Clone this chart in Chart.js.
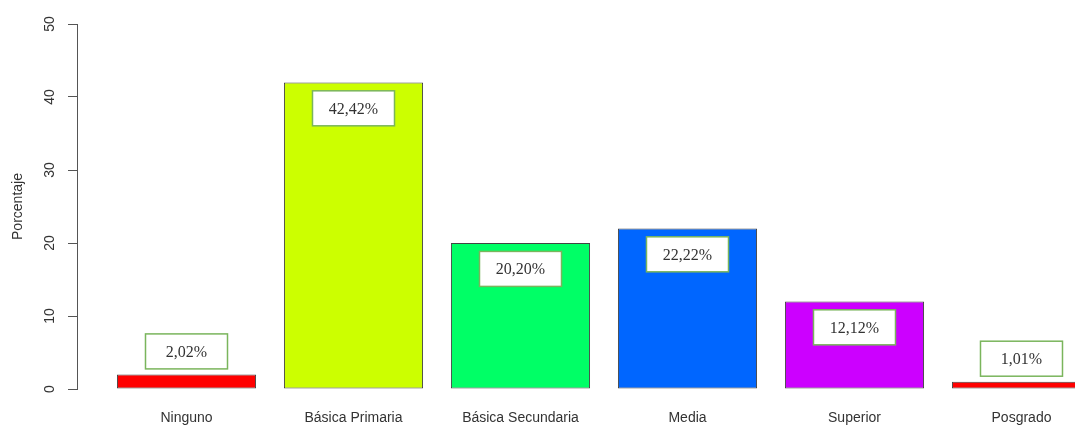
<!DOCTYPE html>
<html>
<head>
  <meta charset="UTF-8">
  <title>Nivel educativo</title>
  <script src="https://cdn.jsdelivr.net/npm/chart.js"></script>
  <style>
    body { margin: 0; background: #fff; overflow: hidden; }
    canvas { display: block; }
  </style>
</head>
<body>

  <canvas id="nivelChart" width="1075" height="428"></canvas>

  <script>
    const categorias = ['Ninguno', 'Básica Primaria', 'Básica Secundaria', 'Media', 'Superior', 'Posgrado'];
    // bar heights are the counts (n = 99), the boxes show the percentages
    const frecuencias = [2, 42, 20, 22, 12, 1];
    const porcentajes = [2.02, 42.42, 20.20, 22.22, 12.12, 1.01];
    const colores = ['#FF0000', '#CCFF00', '#00FF66', '#0066FF', '#CC00FF', '#FF0000'];
    const yTicks = [0, 10, 20, 30, 40, 50];

    Chart.defaults.font.family = '"Liberation Sans", Arial, sans-serif';
    Chart.defaults.font.size = 14;
    Chart.defaults.color = '#333';

    // draws the rotated y labels, the axis title and the value boxes
    const extras = {
      id: 'extras',
      afterDraw(chart) {
        const ctx = chart.ctx;
        const y = chart.scales.y;
        const x = chart.scales.x;

        ctx.save();
        ctx.fillStyle = '#333';
        ctx.font = '14px "Liberation Sans", Arial, sans-serif';
        ctx.textAlign = 'center';
        ctx.textBaseline = 'middle';
        yTicks.forEach(t => {
          ctx.save();
          ctx.translate(50, y.getPixelForValue(t));
          ctx.rotate(-Math.PI / 2);
          ctx.fillText(String(t), 0, 0);
          ctx.restore();
        });
        ctx.save();
        ctx.translate(18, (chart.chartArea.top + chart.chartArea.bottom) / 2);
        ctx.rotate(-Math.PI / 2);
        ctx.fillText('Porcentaje', 0, 0);
        ctx.restore();

        ctx.font = '16px "Liberation Serif", "Times New Roman", serif';
        frecuencias.forEach((v, i) => {
          const pos = v < 5 ? v + 3.15 : v - 3.55;
          const cx = x.getPixelForValue(i + 1);
          const cy = y.getPixelForValue(pos);
          const w = 82, h = 35;
          ctx.fillStyle = '#fff';
          ctx.fillRect(cx - w / 2, cy - h / 2, w, h);
          ctx.strokeStyle = '#7ab55c';
          ctx.lineWidth = 1.5;
          ctx.strokeRect(cx - w / 2, cy - h / 2, w, h);
          ctx.fillStyle = '#333';
          ctx.fillText(porcentajes[i].toFixed(2).replace('.', ',') + '%', cx, cy + 1);
        });
        ctx.restore();
      }
    };

    new Chart(document.getElementById('nivelChart'), {
      type: 'bar',
      data: {
        datasets: [{
          data: frecuencias.map((v, i) => ({ x: i + 1, y: v })),
          backgroundColor: colores,
          borderColor: '#444',
          borderWidth: 1,
          borderSkipped: false,
          barPercentage: 0.833,
          categoryPercentage: 1
        }]
      },
      options: {
        responsive: false,
        animation: false,
        layout: { padding: { top: 24, left: 0, right: 0, bottom: 0 } },
        plugins: { legend: { display: false }, tooltip: { enabled: false } },
        scales: {
          x: {
            type: 'linear',
            offset: false,
            min: 0.3443,
            max: 6.3204,
            grid: { display: false, drawTicks: false },
            border: { display: false },
            afterBuildTicks: s => { s.ticks = categorias.map((c, i) => ({ value: i + 1 })); },
            afterFit: s => { s.height = 39; },
            ticks: {
              padding: 21,
              maxRotation: 0,
              autoSkip: false,
              callback: v => categorias[v - 1]
            }
          },
          y: {
            min: 0,
            max: 50,
            afterBuildTicks: s => { s.ticks = yTicks.map(v => ({ value: v })); },
            afterFit: s => { s.width = 77; },
            grid: { drawOnChartArea: false, tickLength: 9, color: '#555' },
            border: { color: '#555', width: 1 },
            ticks: { display: false }
          }
        }
      },
      plugins: [extras]
    });
  </script>

</body>
</html>
